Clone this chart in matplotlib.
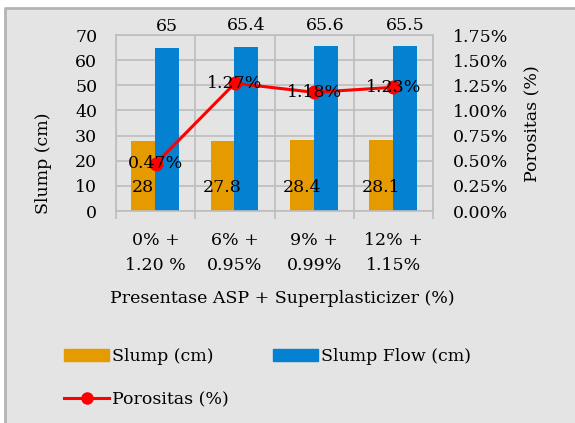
import matplotlib
matplotlib.use('Agg')
import matplotlib.pyplot as plt
import matplotlib.ticker as ticker
from matplotlib.patches import Rectangle, Patch
from matplotlib.lines import Line2D
import numpy as np

categories = ['0% +\n1.20 %', '6% +\n0.95%', '9% +\n0.99%', '12% +\n1.15%']
slump = [28, 27.8, 28.4, 28.1]
slump_flow = [65, 65.4, 65.6, 65.5]
porositas = [0.47, 1.27, 1.18, 1.23]

plt.rcParams['font.family'] = ['DejaVu Serif']
plt.rcParams['font.size'] = 12.5

c_orange = '#E59B00'
c_blue = '#0581D1'
c_grid = '#BDBDBD'
c_bg = '#E4E4E4'

fig = plt.figure(figsize=(5.75, 4.23), dpi=100, facecolor=c_bg,
                 edgecolor=c_bg, linewidth=0)
# white margin on top / left, gray border line of the chart area
bx, by = 5 / 575, 1 - 8 / 423
fig.patches.append(Rectangle((0, by), 1, 1 - by, transform=fig.transFigure,
                             facecolor='white', edgecolor='none', zorder=-10))
fig.patches.append(Rectangle((0, 0), bx, 1, transform=fig.transFigure,
                             facecolor='white', edgecolor='none', zorder=-10))
fig.lines.append(Line2D([bx, bx, 1], [0, by, by], transform=fig.transFigure,
                        color='#B4B4B4', linewidth=2.0, zorder=-9))

ax = fig.add_axes([116 / 575, 1 - 211 / 423, (433 - 116) / 575, (211 - 35) / 423])
ax.patch.set_alpha(0.0)
x = np.arange(len(categories))
w = 0.30

b1 = ax.bar(x - 0.155, slump, w, color=c_orange, zorder=2)
b2 = ax.bar(x + 0.145, slump_flow, w, color=c_blue, zorder=2)

ax.set_xlim(-0.5, len(categories) - 0.5)
ax.set_ylim(0, 70)
ax.yaxis.set_major_locator(ticker.MultipleLocator(10))
ax.set_xticks(x)
ax.set_xticklabels(categories, linespacing=1.65)
ax.set_xticks(np.arange(-0.5, len(categories)), minor=True)
ax.tick_params(axis='x', which='major', length=0, pad=15)
ax.tick_params(axis='x', which='minor', length=6, color=c_grid, width=1.2)
ax.tick_params(axis='y', length=0, pad=13.5)
ax.grid(which='major', axis='y', color=c_grid, linewidth=1.2)
ax.grid(which='minor', axis='x', color=c_grid, linewidth=1.2)
ax.set_axisbelow(True)
for s in ax.spines.values():
    s.set_color(c_grid)
    s.set_linewidth(1.2)

for xi, v in zip(x + 0.145, slump_flow):
    ax.annotate(f'{v:g}', (xi, v), xytext=(0, 21), textcoords='offset pixels',
                ha='center', va='center', annotation_clip=False, zorder=5)
for xi, v in zip(x - 0.155, slump):
    ax.annotate(f'{v:g}', (xi, 0), xytext=(0, 23), textcoords='offset pixels',
                ha='center', va='center', zorder=5)

ax2 = ax.twinx()
ax2.set_ylim(0, 1.75)
ax2.yaxis.set_major_locator(ticker.MultipleLocator(0.25))
ax2.yaxis.set_major_formatter(ticker.FuncFormatter(lambda v, p: f'{v:.2f}%'))
ax2.tick_params(axis='y', length=0, pad=14)
for s in ax2.spines.values():
    s.set_visible(False)
ax2.plot(x, porositas, color='#FF0000', linewidth=2.2, marker='o',
         markersize=9, zorder=3)
for xi, v in zip(x, porositas):
    ax2.text(xi, v, f'{v:.2f}%', ha='center', va='center', zorder=6)

fig.text(43 / 575, 1 - 163 / 423, 'Slump (cm)', rotation=90, ha='center', va='center')
fig.text(533 / 575, 1 - 124 / 423, 'Porositas (%)', rotation=90, ha='center', va='center')
fig.text(282 / 575, 1 - 298 / 423, 'Presentase ASP + Superplasticizer (%)',
         ha='center', va='center')

handles = [Patch(color=c_orange, label='Slump (cm)'),
           Line2D([], [], color='#FF0000', linewidth=2.2, marker='o', markersize=8,
                  label='Porositas (%)'),
           Patch(color=c_blue, label='Slump Flow (cm)')]
fig.legend(handles=handles, ncol=2, loc='upper left',
           bbox_to_anchor=(64 / 575, 1 - 348 / 423), frameon=False,
           handlelength=2.6, handleheight=0.7, handletextpad=0.15,
           columnspacing=2.55, labelspacing=1.53, borderaxespad=0, borderpad=0)

fig.savefig('out.png', dpi=100, facecolor=fig.get_facecolor(),
            edgecolor=fig.get_edgecolor())
